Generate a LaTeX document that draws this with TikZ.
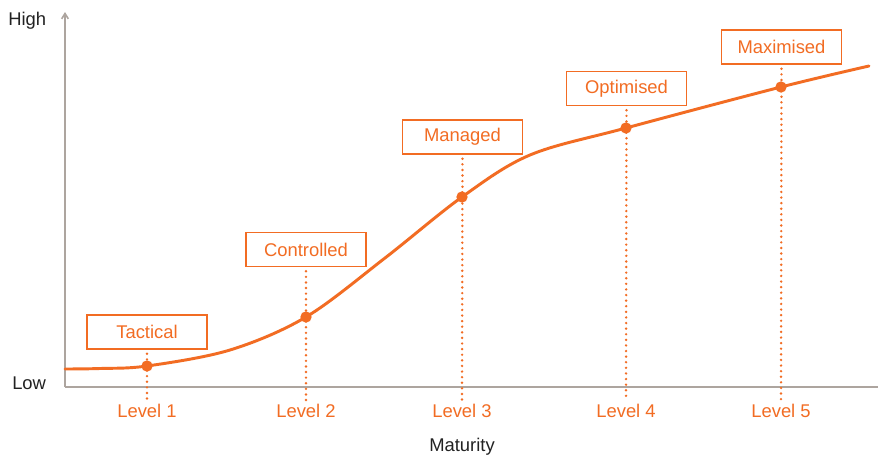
\documentclass[tikz,border=0pt]{standalone}
\usepackage{fontspec}
\setmainfont{Liberation Sans}
\usetikzlibrary{arrows.meta}
\definecolor{org}{HTML}{F26C23}
\definecolor{axisc}{HTML}{ADA59F}
\definecolor{txt}{HTML}{222222}
\begin{document}
\begin{tikzpicture}[x=0.75pt,y=-0.75pt,
  lvlbox/.style={draw=org,line width=1.1pt,fill=white,minimum width=90pt,minimum height=25.5pt,text=org,font=\fontsize{13.8}{16}\selectfont,inner sep=0pt},
  lvltxt/.style={text=org,font=\fontsize{13.8}{16}\selectfont,inner sep=0pt},
  axtxt/.style={text=txt,font=\fontsize{13.8}{16}\selectfont,inner sep=0pt},
  pt/.style={circle,fill=org,inner sep=0pt,minimum size=8.5pt},
  dots/.style={org,line width=2pt,line cap=round,dash pattern=on 0pt off 4.2pt}]
\useasboundingbox (0,0) rectangle (878,457);
\fill[white] (0,0) rectangle (878,457);
% axes
\coordinate (o) at (65,387);
\coordinate (ytop) at (65,12);
\coordinate (xend) at (878,387);
\draw[axisc,line width=1.2pt,-{Straight Barb[length=4pt,width=5pt]}] (o) -- (ytop);
\draw[axisc,line width=1.2pt] (o) -- (xend);
\node[axtxt,anchor=west] (high) at (8,21) {High};
\node[axtxt,anchor=west] (low) at (12,383) {Low};
\node[axtxt] (mat) at (462,447) {Maturity};
% boxes
\node[lvlbox] (b1) at (147,332) {Tactical};
\node[lvlbox] (b2) at (306,249.5) {Controlled};
\node[lvlbox] (b3) at (462.5,137) {Managed};
\node[lvlbox] (b4) at (626.5,88.5) {Optimised};
\node[lvlbox] (b5) at (781.5,47) {Maximised};
% level labels
\foreach \i/\x in {1/147,2/306,3/462,4/626,5/781}{
  \coordinate (e\i) at (\x,401);
  \node[lvltxt] (l\i) at (\x,411) {Level \i};
  \draw[dots] ([yshift=-3pt]b\i.south) -- (e\i);
}
% curve
\draw[org,line width=2.2pt,line cap=round] plot[smooth,tension=0.55] coordinates
 {(65,369) (100,368.5) (147,366) (230,350) (306,317) (385,258) (462,197) (530,155) (626,128) (781,87) (869,66)};
\foreach \i/\x/\y in {1/147/366,2/306/317,3/462/197,4/626/128,5/781/87}{
  \node[pt] (p\i) at (\x,\y) {};
}
\end{tikzpicture}
\end{document}
